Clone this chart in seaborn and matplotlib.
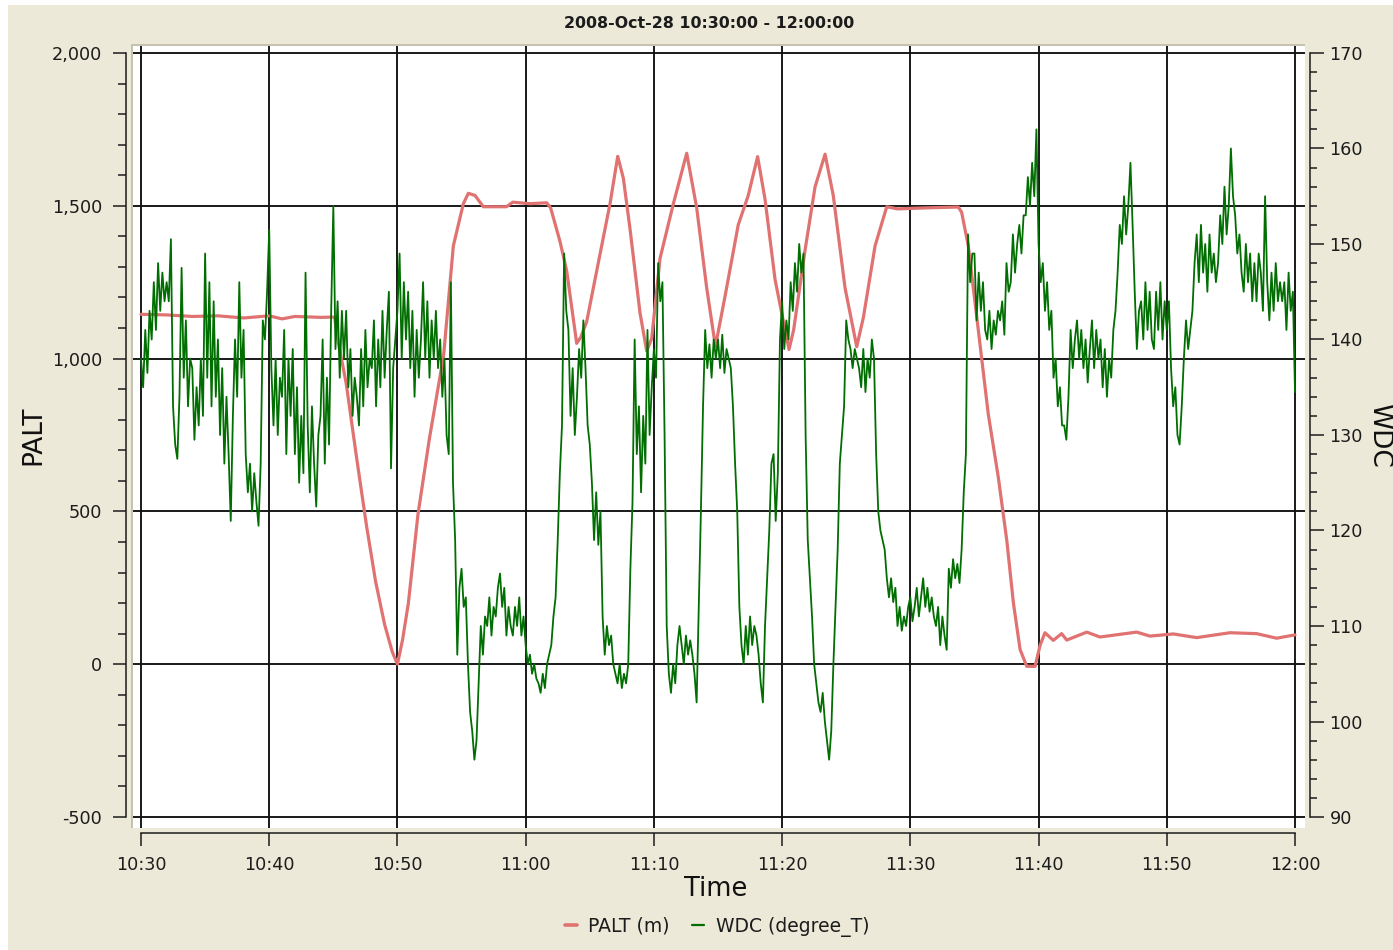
import numpy as np
import pandas as pd
import matplotlib
matplotlib.use("Agg")
import matplotlib.pyplot as plt
import matplotlib.dates as mdates
from matplotlib.ticker import FuncFormatter, MultipleLocator
from matplotlib.patches import Rectangle
from matplotlib.lines import Line2D
import seaborn as sns

# ---- data -------------------------------------------------------------
START = "2008-10-28 10:30:00"
END = "2008-10-28 12:00:00"
TITLE = "2008-Oct-28 10:30:00 - 12:00:00"

# pressure altitude (m), minutes after START
palt_minutes = [0, 2, 4, 6, 8, 10, 11, 12, 14, 15.1, 15.4, 16.0, 16.8, 17.6, 18.3,
                19.0, 19.6, 20.0, 20.4, 20.85, 21.6, 22.5, 23.6, 24.36, 25.14,
                25.53, 26.05, 26.7, 28.5, 29.0, 30.34, 31.64, 31.95, 32.68, 33.2,
                33.98, 34.3, 34.76, 35.8, 36.58, 37.18, 37.62, 38.14, 38.92, 39.44,
                39.83, 40.48, 41.52, 42.56, 43.34, 44.12, 44.8, 45.55, 46.58, 47.36,
                48.09, 48.67, 49.45, 49.97, 50.54, 50.9, 51.79, 52.57, 53.35, 53.99,
                54.91, 55.82, 56.34, 57.25, 58.16, 59.0, 61.0, 63.74, 64.0, 64.52,
                65.3, 66.08, 66.86, 67.52, 68.04, 68.56, 69.08, 69.73, 70.12, 70.5,
                71.15, 71.8, 72.2, 73.76, 74.79, 77.65, 78.69, 80.51, 82.33, 84.93,
                87.01, 88.57, 90.0]
palt_m = [1145, 1143, 1138, 1140, 1133, 1140, 1130, 1138, 1135, 1136, 1050, 920, 680, 450, 270,
          130, 40, 0, 80, 199, 490, 740, 1010, 1369, 1507,
          1541, 1534, 1497, 1497, 1512, 1507, 1510, 1493, 1383, 1287,
          1050, 1070, 1121, 1342, 1507, 1662, 1590, 1424, 1149, 1025,
          1066, 1328, 1507, 1672, 1493, 1231, 1040, 1204, 1438, 1534,
          1661, 1521, 1259, 1149, 1030, 1094, 1355, 1562, 1669, 1534,
          1231, 1039, 1135, 1369, 1497, 1490, 1493, 1496, 1479, 1369,
          1094, 818, 612, 406, 200, 48, -7, -7, 62, 103,
          78, 100, 79, 105, 89, 105, 92, 99, 87, 103,
          100, 85, 96]

# wind direction (degree_T), one reading every 10 s from START (one row per minute)
wdc_step_seconds = 10
wdc_deg = [
    # 10:30
    138, 135, 141, 136.5, 143, 140,
    146, 141, 148, 143, 147, 144,
    146, 144, 150.5, 133, 129, 127.5,
    134, 147.5, 136, 142, 133, 138,
    137, 129.5, 135, 131, 138, 132,
    149, 136, 146, 133, 144, 134,
    140, 130, 137, 127, 134, 128,
    121, 132, 140, 134, 146, 136,
    141, 128, 124, 127, 122, 126,
    123, 120.5, 127, 142, 140, 145,
    # 10:40
    151.5, 137, 131, 138, 130, 136,
    134, 141, 128, 138, 132, 139,
    128, 135, 125, 132, 126, 147,
    131, 124, 133, 127, 122.5, 130,
    132, 140, 127, 136, 129, 143,
    154, 139, 144, 136, 143, 138,
    143, 135, 139, 132, 136, 134,
    131, 139, 133, 141, 135, 138,
    137, 142, 133, 140, 135, 143,
    136, 141, 145, 126.5, 137, 140,
    # 10:50
    143, 149, 138, 146, 140, 145,
    137, 143, 134, 141, 136, 140,
    146, 138, 144, 136, 142, 138,
    143, 137, 140, 134, 138, 130,
    128, 146, 125, 119, 107, 114,
    116, 112, 113, 106, 101, 99,
    96, 98, 104, 110, 107, 111,
    110, 113, 109, 112, 111, 114,
    115.5, 112, 114, 109, 112, 110,
    109, 112, 110, 113, 109, 111,
    # 11:00
    108, 106, 107, 105, 106, 104.5,
    104, 103, 105, 103.5, 106, 107,
    108, 111, 113, 119, 126, 131,
    149, 143, 141, 132, 137, 130,
    134, 139, 136, 142, 137, 131,
    129, 125, 119, 124, 118.5, 122,
    111, 107, 110, 108, 109, 106,
    105, 104, 106, 103.5, 105, 104,
    106, 116, 123, 140, 128, 133,
    124, 132, 127, 141, 130, 135,
    # 11:10
    139, 136, 148, 144, 146, 130,
    110, 105, 103, 106, 104, 108,
    110, 108, 106, 109, 107, 108.5,
    107, 105, 102, 112, 122, 133,
    141, 137, 139.5, 136, 140, 138,
    140, 137, 140.5, 136.5, 139, 138,
    137, 133, 127, 122, 112, 108,
    106, 110, 107, 111, 108, 110,
    109, 107, 104, 102, 110, 115,
    120, 127, 128, 121, 126, 140,
    # 11:20
    144, 139, 142, 140, 146, 143,
    148, 145, 150, 147, 149, 130,
    119, 115, 111, 106, 104, 102,
    101, 103, 100, 98, 96, 99,
    106, 112, 118, 127, 130, 133,
    142, 140, 139, 137, 139, 138,
    137, 135, 139, 134.5, 138, 136,
    140, 138, 128, 122, 120, 119,
    118, 115, 113, 115, 112.5, 114,
    110, 112, 109.5, 111, 110, 112,
    # 11:30
    113, 110.5, 112, 114, 111, 113,
    115, 112, 114, 111.5, 113, 111,
    110, 112, 108, 111, 109, 107.5,
    116, 114, 117, 115, 116.5, 114.5,
    118, 124, 128, 151, 146, 149,
    149, 142, 147, 143, 146, 141,
    140, 143, 139, 142, 140.5, 143,
    142, 144, 140.5, 148, 145, 146,
    151, 147, 150, 152, 149, 153,
    153, 157, 154, 158.5, 155, 162,
    # 11:40
    150, 146, 148, 143, 146, 141,
    143, 136, 138, 133, 135, 131,
    131, 129.5, 134, 141, 137, 140,
    142, 138, 141, 137, 140, 135.5,
    139, 142, 137, 141, 138, 140,
    135, 139, 134, 138, 136, 141,
    143, 147, 152, 150, 155, 151,
    154, 158.5, 152, 145, 139, 143,
    144, 140, 146, 141, 145, 140,
    139, 145, 141, 146, 140, 144,
    # 11:50
    141, 144, 137, 133, 135, 130,
    129, 133, 138, 142, 139, 141,
    143, 148, 151, 146, 152, 147,
    150, 145, 151, 147, 149, 146,
    148, 153, 150, 156, 151, 154,
    160, 155, 153, 149, 151, 147,
    145, 150, 146, 149, 144, 148,
    144, 149, 147, 143, 155, 146,
    142, 147, 143, 148, 144, 146,
    144, 146, 141, 147, 143, 145,
    # 12:00
    134.5,
]

base = pd.Timestamp(START)
end = pd.Timestamp(END)
palt_df = pd.DataFrame({"Time": base + pd.to_timedelta(palt_minutes, unit="min"),
                        "PALT": palt_m})
wdc_df = pd.DataFrame({"Time": base + pd.to_timedelta(np.arange(len(wdc_deg)) * wdc_step_seconds, unit="s"),
                       "WDC": wdc_deg})

# ---- style ------------------------------------------------------------
sns.set_theme(style="ticks")
plt.rcParams["font.family"] = ["DejaVu Sans"]
plt.rcParams["axes.unicode_minus"] = False

RED = "#E07272"
GREEN = "#006E00"
INK = "#1c1c1c"
PANEL = "#ECE9D8"

W, H = 1393, 950
fig = plt.figure(figsize=(W / 100, H / 100), dpi=100, facecolor="white")


def box(x0, y0, x1, y1):
    """Pixel box (top-left origin) -> figure-fraction rect."""
    return [x0 / W, 1 - y1 / H, (x1 - x0) / W, (y1 - y0) / H]


# window background and the sunken frame of the plotting area
fig.add_artist(Rectangle((8 / W, 0), 1 - 8 / W, 1 - 5 / H, transform=fig.transFigure,
                         facecolor=PANEL, edgecolor="none", zorder=-2))
fig.add_artist(Rectangle((130.5 / W, 1 - 828 / H), (1305 - 130.5) / W, (828 - 43.5) / H,
                         transform=fig.transFigure, facecolor="#C6C2B1",
                         edgecolor="none", zorder=-1))

ax = fig.add_axes(box(133, 46, 1305, 828))
ax.set_facecolor("white")

sns.lineplot(data=palt_df, x="Time", y="PALT", ax=ax, color=RED, linewidth=2.3,
             estimator=None, legend=False)
ax2 = ax.twinx()
sns.lineplot(data=wdc_df, x="Time", y="WDC", ax=ax2, color=GREEN, linewidth=1.3,
             estimator=None, legend=False)

# ---- scales ------------------------------------------------------------
ax.set_xlim(base - pd.Timedelta(seconds=37.4), end + pd.Timedelta(seconds=46.8))
ax.set_ylim(-536, 2023)
ax2.set_ylim(88.85, 170.73)

ax.xaxis.set_major_locator(mdates.MinuteLocator(byminute=range(0, 60, 10)))
ax.xaxis.set_major_formatter(mdates.DateFormatter("%H:%M"))
ax.yaxis.set_major_locator(MultipleLocator(500))
ax.yaxis.set_minor_locator(MultipleLocator(100))
ax.yaxis.set_major_formatter(FuncFormatter(lambda v, p: f"{v:,.0f}"))
ax2.yaxis.set_major_locator(MultipleLocator(10))
ax2.yaxis.set_minor_locator(MultipleLocator(2))
ax2.yaxis.set_major_formatter(FuncFormatter(lambda v, p: f"{v:.0f}"))

# ---- spines and ticks --------------------------------------------------
for a in (ax, ax2):
    a.set_xlabel("")
    a.set_ylabel("")
    a.spines["top"].set_visible(False)
    for s in a.spines.values():
        s.set_color(INK)
        s.set_linewidth(1.1)
ax.spines["right"].set_visible(False)
ax2.spines["left"].set_visible(False)
ax2.spines["bottom"].set_visible(False)

ax.spines["left"].set_position(("outward", 5.0))
ax.spines["left"].set_bounds(-500, 2000)
ax.spines["bottom"].set_position(("outward", 3.6))
ax.spines["bottom"].set_bounds(mdates.date2num(base), mdates.date2num(end))
ax2.spines["right"].set_position(("outward", 3.6))
ax2.spines["right"].set_bounds(90, 170)

ax.tick_params(axis="y", which="major", left=True, length=9.4, width=1.1, direction="out",
               pad=8, labelsize=12.7, colors=INK)
ax.tick_params(axis="y", which="minor", left=True, length=5.8, width=1.1, direction="out",
               colors=INK)
ax.tick_params(axis="x", which="major", bottom=True, length=9.4, width=1.1, direction="out",
               pad=7, labelsize=12.7, colors=INK)
ax2.tick_params(axis="y", which="major", right=True, length=10, width=1.1, direction="out",
                pad=4, labelsize=12.7, colors=INK)
ax2.tick_params(axis="y", which="minor", right=True, length=5, width=1.1, direction="out",
                colors=INK)

ax.grid(True, which="major", color="#111111", linewidth=1.35)
ax.grid(False, which="minor")
ax2.grid(False)
ax.set_axisbelow(True)

# ---- text --------------------------------------------------------------
fig.text(709 / W, 1 - 24 / H, TITLE, ha="center", va="center", fontsize=11.4,
         fontweight="bold", color=INK)
fig.text(716 / W, 1 - 889 / H, "Time", ha="center", va="center", fontsize=18.5, color="#111111")
fig.text(33 / W, 1 - 435 / H, "PALT", ha="center", va="center", rotation=90,
         fontsize=19, color="#111111")
fig.text(1379 / W, 1 - 435 / H, "WDC", ha="center", va="center", rotation=-90,
         fontsize=19, color="#111111")

handles = [Line2D([], [], color=RED, linewidth=2.6), Line2D([], [], color=GREEN, linewidth=1.6)]
fig.legend(handles=handles, labels=["PALT (m)", "WDC (degree_T)"], loc="center",
           bbox_to_anchor=(717 / W, 1 - 927 / H), ncol=2, frameon=False, fontsize=13.5,
           handlelength=0.65, handletextpad=0.6, columnspacing=1.2, labelcolor=INK)

fig.savefig("out.png", dpi=100, facecolor=fig.get_facecolor())
